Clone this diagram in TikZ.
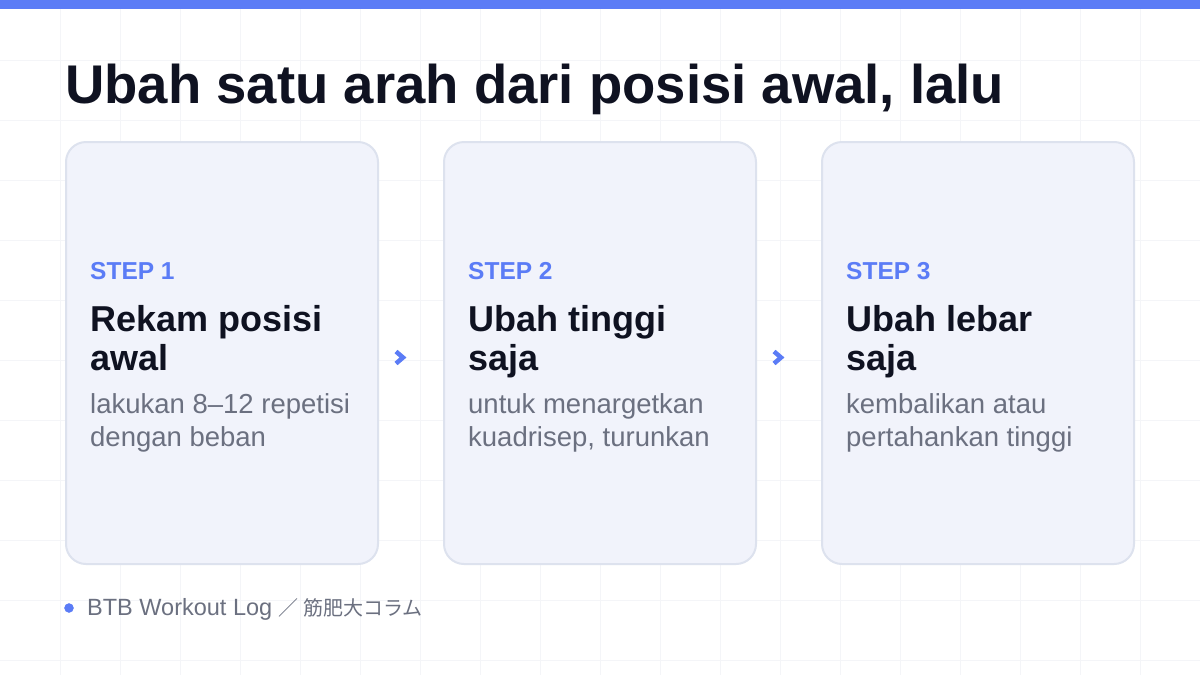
\documentclass[tikz,border=0pt]{standalone}
\usepackage{fontspec}
\setmainfont{Liberation Sans}
\newfontfamily\cjkfont{Noto Sans CJK JP}
\usepackage{tikz}
\usepackage{color}
\definecolor{accent}{HTML}{5B7CF6}
\definecolor{ink}{HTML}{0F1221}
\definecolor{muted}{HTML}{6B7080}
\definecolor{cardfill}{HTML}{F1F3FB}
\definecolor{cardline}{HTML}{DDE2EE}
\definecolor{gridcol}{HTML}{F4F5F8}

\begin{document}
\begin{tikzpicture}[%
      x=1pt, y=-1pt,
      gridline/.style={draw=gridcol, line width=1pt},
      card/.style={draw=cardline, line width=2pt, fill=cardfill, rounded corners=20pt,
        minimum width=312pt, minimum height=422pt, inner sep=0pt},
      steplabel/.style={anchor=base west, inner sep=0pt, text=accent,
        font=\bfseries\fontsize{24.5}{29}\selectfont},
      heading/.style={anchor=base west, inner sep=0pt, align=left, text=ink,
        font=\bfseries\fontsize{36}{39}\selectfont},
      desc/.style={anchor=base west, inner sep=0pt, align=left, text=muted,
        font=\fontsize{27.5}{33}\selectfont},
      chev/.style={draw=accent, line width=4.5pt, line join=miter},
      ]
      \useasboundingbox (0,0) rectangle (1200,675);
      \fill [white] (0,0) rectangle (1200,675);
      \foreach \gx in {60,120,...,1140} \draw [gridline] (\gx,0) -- (\gx,675);
      \foreach \gy in {60,120,...,660} \draw [gridline] (0,\gy) -- (1200,\gy);
      \fill [accent] (0,0) rectangle (1200,9);

      \node [anchor=base west, inner sep=0pt, text=ink, font=\bfseries\fontsize{54.5}{60}\selectfont]
        (title) at (65,103) {Ubah satu arah dari posisi awal, lalu};

      \node [card] (card1) at (222,353) {};
      \node [card] (card2) at (600,353) {};
      \node [card] (card3) at (978,353) {};

      % two-line nodes sit on the baseline of their last line
      \node [steplabel] (step1) at (90,279) {STEP 1};
      \node [heading] (head1) at (90,370) {Rekam posisi\\awal};
      \node [desc] (desc1) at (90,446) {lakukan 8–12 repetisi\\dengan beban};

      \node [steplabel] (step2) at (468,279) {STEP 2};
      \node [heading] (head2) at (468,370) {Ubah tinggi\\saja};
      \node [desc] (desc2) at (468,446) {untuk menargetkan\\kuadrisep, turunkan};

      \node [steplabel] (step3) at (846,279) {STEP 3};
      \node [heading] (head3) at (846,370) {Ubah lebar\\saja};
      \node [desc] (desc3) at (846,446) {kembalikan atau\\pertahankan tinggi};

      % chevrons between the cards
      \coordinate (arr12) at (400,357.5);
      \coordinate (arr23) at (778,357.5);
      \draw [chev] ([shift={(-4,-6)}]arr12) -- ([shift={(3,0)}]arr12) -- ([shift={(-4,6)}]arr12);
      \draw [chev] ([shift={(-4,-6)}]arr23) -- ([shift={(3,0)}]arr23) -- ([shift={(-4,6)}]arr23);

      \filldraw [accent] (69,608) circle (4.5pt);
      \node [anchor=base west, inner sep=0pt, text=muted, font=\fontsize{23.5}{26}\selectfont]
        (footer) at (87,615) {BTB Workout Log {\cjkfont\fontsize{20}{26}\selectfont ／ 筋肥大コラム}};
\end{tikzpicture}
\end{document}
